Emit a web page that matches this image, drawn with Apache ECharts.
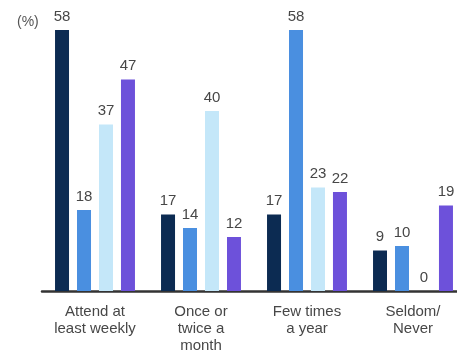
<!DOCTYPE html>
<html>
<head>
<meta charset="utf-8">
<script src="https://cdn.jsdelivr.net/npm/echarts@6/dist/echarts.min.js"></script>
<style>
  html, body { margin: 0; padding: 0; background: #fff; }
  #chart { width: 457px; height: 356px; }
</style>
</head>
<body>
<div id="chart"></div>
<script>
// Church attendance frequency, four groups (%)
const categories = ['Attend at\nleast weekly', 'Once or\ntwice a\nmonth', 'Few times\na year', 'Seldom/\nNever'];
const groupA = [58, 17, 17, 9];
const groupB = [18, 14, 58, 10];
const groupC = [37, 40, 23, 0];
const groupD = [47, 12, 22, 19];

const colors = ['#0c2b52', '#4a8fe0', '#c4e7f9', '#6d51da'];
const seriesData = [groupA, groupB, groupC, groupD];
const FONT = 'Liberation Sans, Arial, sans-serif';

const chart = echarts.init(document.getElementById('chart'), null, { renderer: 'canvas' });

const labelStyle = {
  show: true,
  position: 'top',
  distance: 6,
  color: '#474747',
  fontSize: 15,
  fontFamily: FONT
};

chart.setOption({
  animation: false,
  title: {
    text: '(%)',
    left: 12,
    top: 10,
    textStyle: { color: '#555', fontSize: 14, fontWeight: 'normal', fontFamily: FONT }
  },
  // plot area runs past the right edge, so the last group is cut off
  grid: { left: 42, width: 424, top: 21, bottom: 65, containLabel: false, outerBoundsMode: 'none' },
  xAxis: {
    type: 'category',
    data: categories,
    axisLine: { lineStyle: { color: '#333', width: 2.5 } },
    axisTick: { show: false },
    axisLabel: {
      color: '#474747',
      fontSize: 15,
      lineHeight: 17,
      margin: 12,
      interval: 0,
      fontFamily: FONT
    }
  },
  yAxis: {
    type: 'value',
    min: 0,
    max: 60,
    show: false,
    splitLine: { show: false }
  },
  series: seriesData.map((d, i) => ({
    type: 'bar',
    data: d,
    barWidth: 14,
    barGap: '57%',
    barCategoryGap: '25%',
    itemStyle: { color: colors[i] },
    label: labelStyle
  }))
});
</script>
</body>
</html>
